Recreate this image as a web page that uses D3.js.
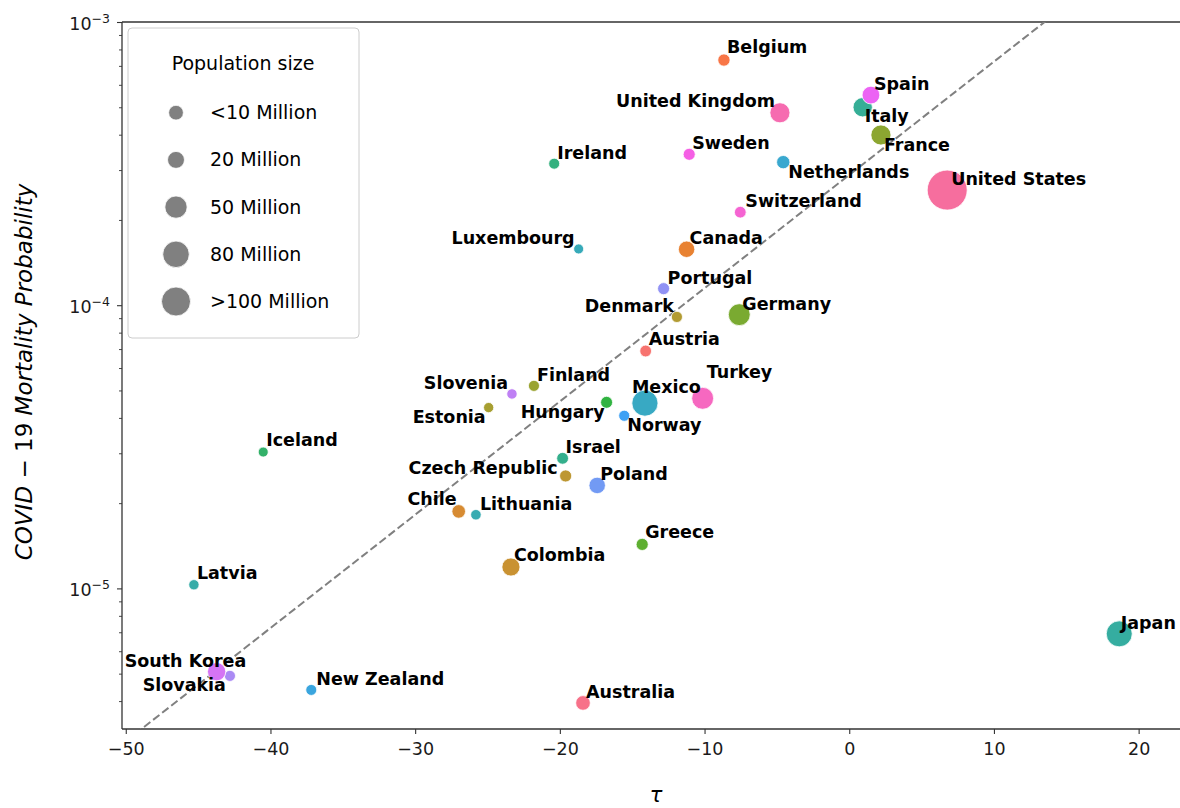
<!DOCTYPE html>
<html>
<head>
<meta charset="utf-8">
<script src="https://cdn.jsdelivr.net/npm/d3@7"></script>
<style>
  html, body { margin: 0; padding: 0; background: #ffffff; }
  svg { display: block; font-family: "DejaVu Sans", sans-serif; }
</style>
</head>
<body>
<svg id="chart" width="1180" height="808"></svg>
<script>
// ---------------- data ----------------
const countries = ["Australia","Austria","Belgium","Canada","Chile","Colombia","Czech Republic","Denmark","Estonia","Finland","France","Germany","Greece","Hungary","Iceland","Ireland","Israel","Italy","Japan","Latvia","Lithuania","Luxembourg","Mexico","Netherlands","New Zealand","Norway","Poland","Portugal","Slovakia","Slovenia","South Korea","Spain","Sweden","Switzerland","Turkey","United Kingdom","United States"];
const tau = [-18.40,-14.07,-8.66,-11.24,-26.99,-23.38,-19.60,-11.91,-24.92,-21.79,2.19,-7.60,-14.31,-16.77,-40.50,-20.39,-19.81,0.93,18.66,-45.29,-25.80,-18.70,-14.12,-4.56,-37.18,-15.55,-17.42,-12.83,-42.80,-23.31,-43.72,1.50,-11.06,-7.53,-10.13,-4.79,6.77];
const mortality = [3.94e-6,6.89e-5,7.34e-4,1.576e-4,1.87e-5,1.19e-5,2.495e-5,9.09e-5,4.35e-5,5.19e-5,3.99e-4,9.26e-5,1.43e-5,4.54e-5,3.03e-5,3.16e-4,2.88e-5,5.00e-4,6.91e-6,1.03e-5,1.82e-5,1.58e-4,4.51e-5,3.20e-4,4.38e-6,4.07e-5,2.31e-5,1.144e-4,4.91e-6,4.86e-5,5.08e-6,5.52e-4,3.41e-4,2.13e-4,4.69e-5,4.78e-4,2.55e-4];
const population = [25.4,8.9,11.5,37.6,19.0,50.3,10.7,5.8,1.3,5.5,67.0,83.1,10.7,9.8,0.36,4.9,9.1,60.3,126.3,1.9,2.8,0.6,127.6,17.3,4.9,5.4,38.0,10.3,5.5,2.1,51.7,47.1,10.3,8.6,83.4,66.8,328.2];

const xTicks = [-50,-40,-30,-20,-10,0,10,20];
const yMajorTicks = [1e-5,1e-4,1e-3];
const yMinorTicks = [4e-6,5e-6,6e-6,7e-6,8e-6,9e-6,2e-5,3e-5,4e-5,5e-5,6e-5,7e-5,8e-5,9e-5,2e-4,3e-4,4e-4,5e-4,6e-4,7e-4,8e-4,9e-4];
const legendTitle = "Population size";
const legendPops = [10,20,50,80,100];
const legendLabels = ["<10 Million","20 Million","50 Million","80 Million",">100 Million"];
// reference line: log10(p) = fitIntercept + fitSlope * tau
const fitIntercept = -3.54;
const fitSlope = 0.04;
const fitTauRange = [-60, 30];

// ---------------- layout (label placement, not data) ----------------
const labelPlacement = {
  "Australia":["start",3,-5],"Austria":["start",3,-6],"Belgium":["start",3,-7],"Canada":["start",3,-5],
  "Chile":["end",-2,-6],"Colombia":["start",3,-6],"Czech Republic":["end",-8,-2],"Denmark":["end",-3,-5],
  "Estonia":["end",-3,15],"Finland":["start",3,-5],"France":["start",3,16],"Germany":["start",3,-5],
  "Greece":["start",3,-6],"Hungary":["end",-2,16],"Iceland":["start",3,-6],"Ireland":["start",3,-5],
  "Israel":["start",3,-5],"Italy":["start",2,15],"Japan":["start",1.5,-5],"Latvia":["start",3,-6],
  "Lithuania":["start",4,-5],"Luxembourg":["end",-4,-5],"Mexico":["start",-13,-10],"Netherlands":["start",5,16],
  "New Zealand":["start",5,-5],"Norway":["start",3,15],"Poland":["start",3,-5],"Portugal":["start",4,-5],
  "Slovakia":["end",-4,15],"Slovenia":["end",-4,-5],"South Korea":["start",-92,-5],"Spain":["start",3,-5],
  "Sweden":["start",3,-5],"Switzerland":["start",5,-5],"Turkey":["start",4,-20],"United Kingdom":["end",-5,-6],
  "United States":["start",4,-5]
};

// ---------------- HUSL palette (seaborn husl_palette) ----------------
function huslToHex(H, S, L) {
  const m = [[3.2406,-1.5372,-0.4986],[-0.9689,1.8758,0.0415],[0.0557,-0.2040,1.0570]];
  const refU = 0.19784, refV = 0.46834, labE = 0.008856, labK = 903.3;
  function maxChroma(L, H) {
    const hrad = H / 360 * 2 * Math.PI, sinH = Math.sin(hrad), cosH = Math.cos(hrad);
    const sub1 = Math.pow(L + 16, 3) / 1560896;
    const sub2 = sub1 > labE ? sub1 : L / labK;
    let result = Infinity;
    for (const [m1, m2, m3] of m) {
      const top = (0.99915 * m1 + 1.05122 * m2 + 1.14460 * m3) * sub2;
      const rbottom = 0.86330 * m3 - 0.17266 * m2;
      const lbottom = 0.12949 * m3 - 0.38848 * m1;
      const bottom = (rbottom * sinH + lbottom * cosH) * sub2;
      for (const t of [0, 1]) {
        const C = L * (top - 1.05122 * t) / (bottom + 0.17266 * sinH * t);
        if (C > 0 && C < result) result = C;
      }
    }
    return result;
  }
  const C = maxChroma(L, H) / 100 * S;
  const hr = H / 360 * 2 * Math.PI;
  const U = Math.cos(hr) * C, V = Math.sin(hr) * C;
  const t = (L + 16) / 116;
  const varY = Math.pow(t, 3) > labE ? Math.pow(t, 3) : (116 * t - 16) / labK;
  const varU = U / (13 * L) + refU, varV = V / (13 * L) + refV;
  const Y = varY;
  const X = -(9 * Y * varU) / ((varU - 4) * varV - varU * varV);
  const Z = (9 * Y - 15 * varV * Y - varV * X) / (3 * varV);
  const rgb = m.map(r => {
    let c = r[0] * X + r[1] * Y + r[2] * Z;
    c = c <= 0.0031308 ? 12.92 * c : 1.055 * Math.pow(c, 1 / 2.4) - 0.055;
    return Math.max(0, Math.min(1, c));
  });
  return d3.rgb(rgb[0] * 255, rgb[1] * 255, rgb[2] * 255).formatHex();
}
function huslPalette(n, h = 0.01, s = 0.9, l = 0.65) {
  return d3.range(n).map(i => huslToHex((((i / n) + h) % 1) * 359, s * 99, l * 99));
}
const palette = huslPalette(countries.length);
const color = d3.scaleOrdinal().domain(countries).range(palette);

// ---------------- scales ----------------
const plot = { left: 122, right: 1190, top: 22, bottom: 729 };
const x = d3.scaleLinear().domain([-50.26, 23.55]).range([plot.left, plot.right]);
const y = d3.scaleLog().domain([Math.pow(10, -5.4965), 1e-3]).range([plot.bottom, plot.top]);
const area = d3.scaleLinear().domain(d3.extent(population)).range([25, 400]);
const radius = p => Math.sqrt(area(p));
const legendMarkerScale = 1.23;

const svg = d3.select("#chart");
const FONT = "DejaVu Sans";

svg.append("defs").append("clipPath").attr("id", "clip")
  .append("rect").attr("x", plot.left).attr("y", plot.top)
  .attr("width", plot.right - plot.left).attr("height", plot.bottom - plot.top);

// ---------------- axes ----------------
const xAxis = svg.append("g").attr("transform", `translate(0,${plot.bottom})`)
  .call(d3.axisBottom(x).tickValues(xTicks).tickSize(5).tickPadding(9)
    .tickFormat(d => d < 0 ? "\u2212" + Math.abs(d) : String(d)));
xAxis.select(".domain").remove();
xAxis.selectAll(".tick line").attr("stroke", "#333").attr("stroke-width", 1.1);
xAxis.selectAll(".tick text").attr("font-family", FONT).attr("font-size", 17.5).attr("fill", "#1a1a1a");

const yAxisMinor = svg.append("g").attr("transform", `translate(${plot.left},0)`)
  .call(d3.axisLeft(y).tickValues(yMinorTicks).tickSize(3).tickFormat(""));
yAxisMinor.select(".domain").remove();
yAxisMinor.selectAll(".tick line").attr("stroke", "#333").attr("stroke-width", 0.9);

const yAxis = svg.append("g").attr("transform", `translate(${plot.left},0)`)
  .call(d3.axisLeft(y).tickValues(yMajorTicks).tickSize(5).tickPadding(7).tickFormat(""));
yAxis.select(".domain").remove();
yAxis.selectAll(".tick line").attr("stroke", "#333").attr("stroke-width", 1.1);
yAxis.selectAll(".tick text").each(function (d) {
  const t = d3.select(this).attr("dy", null).attr("y", 7)
    .attr("font-family", FONT).attr("font-size", 17.5).attr("fill", "#1a1a1a");
  t.append("tspan").text("10");
  t.append("tspan").attr("dy", -7).attr("font-size", 12.5)
    .text("\u2212" + Math.abs(Math.round(Math.log10(d))));
});

// spines (left, bottom, top; right spine lies outside the canvas)
const spines = svg.append("g").attr("stroke", "#333").attr("stroke-width", 1.3).attr("fill", "none");
spines.append("line").attr("x1", plot.left).attr("x2", plot.left).attr("y1", plot.top).attr("y2", plot.bottom);
spines.append("line").attr("x1", plot.left).attr("x2", plot.right).attr("y1", plot.bottom).attr("y2", plot.bottom);
spines.append("line").attr("x1", plot.left).attr("x2", plot.right).attr("y1", plot.top).attr("y2", plot.top);

// ---------------- reference dashed line ----------------
svg.append("path")
  .datum(fitTauRange)
  .attr("clip-path", "url(#clip)")
  .attr("fill", "none").attr("stroke", "#808080").attr("stroke-width", 2)
  .attr("stroke-dasharray", "8,3.5")
  .attr("d", d3.line().x(t => x(t)).y(t => y(Math.pow(10, fitIntercept + fitSlope * t))));

// ---------------- points ----------------
const rows = countries.map((c, i) => ({ c, t: tau[i], m: mortality[i], p: population[i] }));
svg.append("g").attr("clip-path", "url(#clip)")
  .selectAll("circle").data(rows).join("circle")
  .attr("cx", d => x(d.t)).attr("cy", d => y(d.m)).attr("r", d => radius(d.p))
  .attr("fill", d => color(d.c)).attr("stroke", "#ffffff").attr("stroke-width", 0.8);

// ---------------- country labels ----------------
svg.append("g").selectAll("text").data(rows).join("text")
  .attr("x", d => x(d.t) + labelPlacement[d.c][1])
  .attr("y", d => y(d.m) + labelPlacement[d.c][2])
  .attr("text-anchor", d => labelPlacement[d.c][0])
  .attr("font-family", FONT).attr("font-weight", "bold").attr("font-size", 17.5)
  .attr("fill", "#000").text(d => d.c);

// ---------------- axis titles ----------------
const yl = svg.append("text")
  .attr("transform", `translate(32,372) rotate(-90)`)
  .attr("text-anchor", "middle").attr("font-family", FONT).attr("font-size", 23).attr("fill", "#000");
yl.append("tspan").attr("font-style", "italic").text("COVID");
yl.append("tspan").text(" \u2212 19 ");
yl.append("tspan").attr("font-style", "italic").text("Mortality Probability");

svg.append("text").attr("x", (plot.left + plot.right) / 2).attr("y", 802)
  .attr("text-anchor", "middle").attr("font-family", FONT).attr("font-style", "italic")
  .attr("font-size", 21).attr("fill", "#000").text("\u03C4");

// ---------------- legend ----------------
const lg = svg.append("g");
lg.append("rect").attr("x", 128).attr("y", 28).attr("width", 231).attr("height", 310)
  .attr("rx", 4).attr("fill", "#ffffff").attr("fill-opacity", 0.8)
  .attr("stroke", "#cccccc").attr("stroke-width", 1);
lg.append("text").attr("x", 243).attr("y", 69.5).attr("text-anchor", "middle")
  .attr("font-family", FONT).attr("font-size", 19).attr("fill", "#000").text(legendTitle);
const items = lg.selectAll("g.item").data(legendPops).join("g").attr("class", "item")
  .attr("transform", (d, i) => `translate(176,${112.7 + i * 47.2})`);
items.append("circle").attr("r", d => radius(d) * legendMarkerScale)
  .attr("fill", "#808080").attr("stroke", "#ffffff").attr("stroke-width", 0.8);
items.append("text").attr("x", 34).attr("y", 6.5).attr("font-family", FONT).attr("font-size", 19)
  .attr("fill", "#000").text((d, i) => legendLabels[i]);
</script>
</body>
</html>
